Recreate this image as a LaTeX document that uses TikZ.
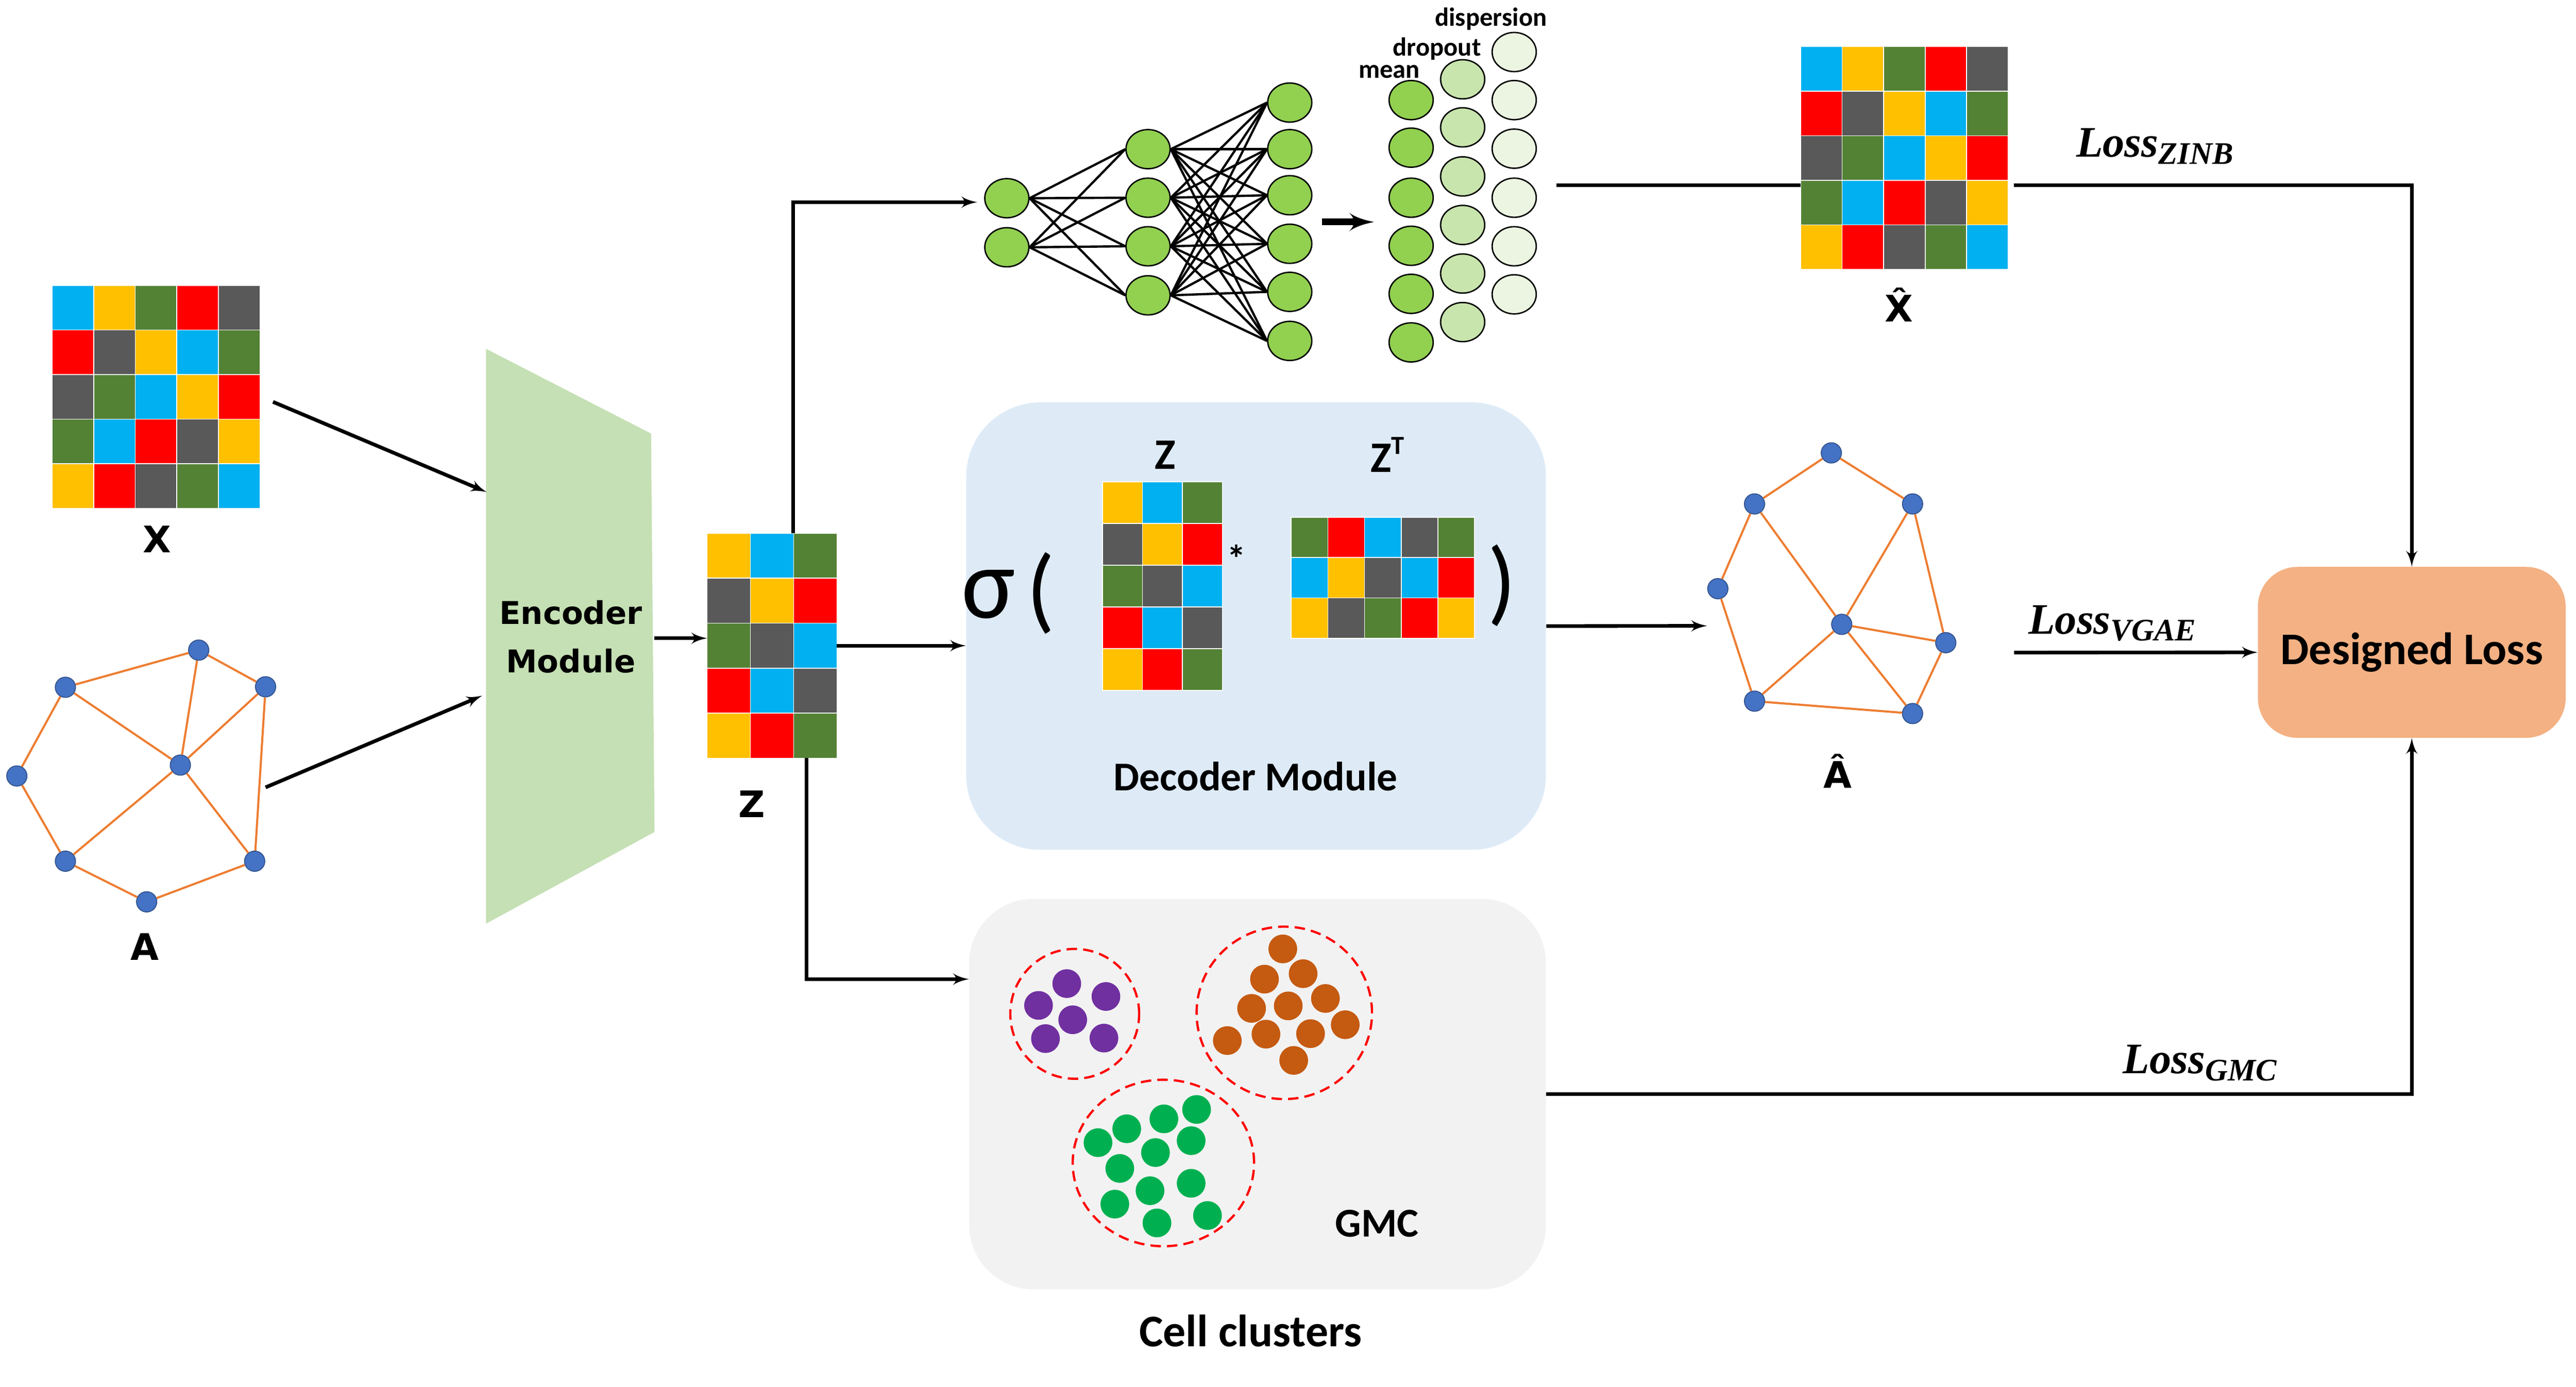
\documentclass[tikz,border=0pt]{standalone}
\usepackage{fontspec}
\setmainfont{Carlito}
\newfontfamily\dejafont{DejaVu Sans}
\newfontfamily\lossfont{Liberation Serif}
\usepackage{tikz}
\usetikzlibrary{shapes, arrows}
\definecolor{mblue}{HTML}{00B0F0}
\definecolor{myellow}{HTML}{FFC000}
\definecolor{mgreen}{HTML}{548235}
\definecolor{mred}{HTML}{FF0000}
\definecolor{mgray}{HTML}{595959}
\definecolor{gorange}{HTML}{ED7D31}
\definecolor{gblue}{HTML}{4472C4}
\definecolor{encgreen}{HTML}{C5E0B4}
\definecolor{decblue}{HTML}{DEEBF7}
\definecolor{gmcgray}{HTML}{F2F2F2}
\definecolor{losspeach}{HTML}{F4B183}
\definecolor{nngreen}{HTML}{92D050}
\definecolor{dropgreen}{HTML}{C9E5AE}
\definecolor{dispgreen}{HTML}{EBF5E1}
\definecolor{cpurple}{HTML}{7030A0}
\definecolor{corange}{HTML}{C55A11}
\definecolor{cgreen}{HTML}{00B050}
\tikzstyle{mat} = [rectangle, inner sep=0pt, outer sep=0pt]
\tikzstyle{lbl} = [font=\dejafont\bfseries\fontsize{21}{24}\selectfont]
\tikzstyle{word} = [font=\bfseries\fontsize{23.5}{28}\selectfont]
\tikzstyle{gnode} = [circle, draw=gblue!70!black, fill=gblue, minimum size=0.41cm, inner sep=0pt, line width=0.5pt]
\tikzstyle{gedge} = [draw=gorange, line width=1.2pt]
\tikzstyle{nnode} = [ellipse, draw, line width=0.8pt, minimum width=0.89cm, minimum height=0.79cm, inner sep=0pt]
\tikzstyle{nedge} = [draw, line width=1.3pt]
\tikzstyle{line} = [draw, line width=2.1pt, -latex']
\tikzstyle{plain} = [draw, line width=2.1pt]
\tikzstyle{bigline} = [draw, line width=3.8pt, -latex']
\tikzstyle{panel} = [rectangle, inner sep=0pt]
\tikzstyle{dot} = [circle, minimum size=0.58cm, inner sep=0pt]
\tikzstyle{ring} = [ellipse, draw=mred, line width=1.3pt, dash pattern=on 6pt off 3.5pt, inner sep=0pt]
% colour cells of a matrix node: node, columns, cell width, cell height, colours
\newcommand{\fillcells}[5]{%
  \foreach \cc [count=\k from 0] in {#5}{%
    \pgfmathtruncatemacro{\mrow}{div(\k,#2)}%
    \pgfmathtruncatemacro{\mcol}{mod(\k,#2)}%
    \fill[\cc, draw=white, line width=0.5pt] ([shift={(\mcol*#3,-\mrow*#4)}]#1.north west) rectangle ++(#3,-#4);
  }}
\newcommand{\lossl}[1]{{\lossfont\bfseries\itshape\fontsize{25}{28}\selectfont Loss\raisebox{-0.35ex}{\fontsize{18}{20}\selectfont #1}}}

\begin{document}
\begin{tikzpicture}
    \useasboundingbox (0,0) rectangle (51.99,-27.99);

    % inputs
    \node[mat, minimum width=4.2cm, minimum height=4.5cm] (xin) at (3.15,-8.01) {};
    \fillcells{xin}{5}{0.84}{0.9}{mblue,myellow,mgreen,mred,mgray,
      mred,mgray,myellow,mblue,mgreen,
      mgray,mgreen,mblue,myellow,mred,
      mgreen,mblue,mred,mgray,myellow,
      myellow,mred,mgray,mgreen,mblue}
    \node[lbl] (xlbl) at (3.17,-10.88) {X};

    \foreach \n/\x/\y in {g1/1.32/-13.87, g2/4.01/-13.12, g3/5.36/-13.86, g4/0.34/-15.66,
      g5/3.64/-15.44, g6/1.32/-17.38, g7/5.14/-17.38, g8/2.96/-18.20}
      \node[gnode] (\n) at (\x,\y) {};
    \foreach \a/\b in {g1/g2, g2/g3, g1/g4, g1/g5, g2/g5, g3/g5, g3/g7, g4/g6, g5/g6, g5/g7, g6/g8, g8/g7}
      \path[gedge] (\a) -- (\b);
    \node[lbl] (albl) at (2.92,-19.11) {A};

    % encoder
    \fill[encgreen] (9.81,-7.04) -- (13.14,-8.75) -- (13.21,-16.79) -- (9.81,-18.64) -- cycle;
    \node[align=center, font=\dejafont\bfseries\fontsize{18}{28}\selectfont] (enc) at (11.52,-12.85) {Encoder\\Module};

    \coordinate (encx) at (9.82,-9.93);
    \coordinate (aout) at (5.36,-15.89);
    \coordinate (enca) at (9.73,-14.04);
    \coordinate (encout) at (13.21,-12.88);
    \path[line] ([xshift=0.26cm, yshift=-0.1cm]xin.east) -- (encx);
    \path[line] (aout) -- (enca);

    % latent Z
    \node[mat, minimum width=2.62cm, minimum height=4.54cm] (zmat) at (15.58,-13.03) {};
    \fillcells{zmat}{3}{0.8733}{0.908}{myellow,mblue,mgreen,
      mgray,myellow,mred,
      mgreen,mgray,mblue,
      mred,mblue,mgray,
      myellow,mred,mgreen}
    \node[lbl] (zlbl) at (15.17,-16.23) {Z};
    \path[line] (encout) -- (encout -| zmat.west);

    % ZINB network
    \foreach \y [count=\i] in {-4.00,-4.99}
      \node[nnode, fill=nngreen] (la\i) at (20.32,\y) {};
    \foreach \y [count=\i] in {-3.01,-3.99,-4.97,-5.96}
      \node[nnode, fill=nngreen] (lb\i) at (23.17,\y) {};
    \foreach \y [count=\i] in {-2.07,-3.01,-3.94,-4.92,-5.89,-6.88}
      \node[nnode, fill=nngreen] (lc\i) at (26.03,\y) {};
    \foreach \i in {1,2}
      \foreach \j in {1,...,4}
        \path[nedge] (la\i.east) -- (lb\j.west);
    \foreach \i in {1,...,4}
      \foreach \j in {1,...,6}
        \path[nedge] (lb\i.east) -- (lc\j.west);

    \foreach \y [count=\i] in {-1.05,-2.02,-3.00,-3.99,-4.97,-5.94}
      \node[nnode, fill=dispgreen] (th\i) at (30.56,\y) {};
    \foreach \y [count=\i] in {-1.60,-2.57,-3.56,-4.54,-5.52,-6.50}
      \node[nnode, fill=dropgreen] (pi\i) at (29.52,\y) {};
    \foreach \y [count=\i] in {-2.02,-2.98,-3.99,-4.96,-5.93,-6.91}
      \node[nnode, fill=nngreen] (mu\i) at (28.48,\y) {};
    \node[font=\bfseries\fontsize{15}{18}\selectfont] (meanlbl) at (28.04,-1.45) {mean};
    \node[font=\bfseries\fontsize{15}{18}\selectfont] (droplbl) at (29.00,-0.98) {dropout};
    \node[font=\bfseries\fontsize{15}{18}\selectfont] (displbl) at (30.09,-0.38) {dispersion};

    \coordinate (nnin) at (19.72,-4.08);
    \coordinate (nnout) at (26.68,-4.48);
    \coordinate (meanin) at (27.73,-4.48);
    \path[line] ([xshift=0.43cm]zmat.north) |- (nnin);
    \path[bigline] (nnout) -- (meanin);

    % reconstructed X
    \node[mat, minimum width=4.19cm, minimum height=4.5cm] (xhat) at (38.435,-3.19) {};
    \fillcells{xhat}{5}{0.838}{0.9}{mblue,myellow,mgreen,mred,mgray,
      mred,mgray,myellow,mblue,mgreen,
      mgray,mgreen,mblue,myellow,mred,
      mgreen,mblue,mred,mgray,myellow,
      myellow,mred,mgray,mgreen,mblue}
    \node[lbl] (xhatlbl) at (38.33,-6.15) {\^{X}};

    % decoder
    \node[panel, fill=decblue, rounded corners=1.5cm, minimum width=11.7cm, minimum height=9.03cm] (dec) at (25.35,-12.635) {};
    \node[font=\fontsize{58}{60}\selectfont] (sig) at (19.95,-12.0) {σ};
    \node[font=\fontsize{54}{56}\selectfont] (lpar) at (21.01,-11.97) {(};
    \node[font=\fontsize{54}{56}\selectfont] (rpar) at (30.31,-11.82) {)};
    \node[mat, minimum width=2.42cm, minimum height=4.21cm] (dz) at (23.46,-11.825) {};
    \fillcells{dz}{3}{0.8067}{0.842}{myellow,mblue,mgreen,
      mgray,myellow,mred,
      mgreen,mgray,mblue,
      mred,mblue,mgray,
      myellow,mred,mgreen}
    \node[mat, minimum width=3.7cm, minimum height=2.44cm] (dzt) at (27.91,-11.66) {};
    \fillcells{dzt}{5}{0.74}{0.8133}{mgreen,mred,mblue,mgray,mgreen,
      mblue,myellow,mgray,mblue,mred,
      myellow,mgray,mgreen,mred,myellow}
    \node[font=\bfseries\fontsize{22}{24}\selectfont] (star) at (24.95,-11.27) {*};
    \node[font=\bfseries\fontsize{25}{28}\selectfont] (dzlbl) at (23.52,-9.18) {Z};
    \node[font=\bfseries\fontsize{25}{28}\selectfont] (dztlbl) at (28.00,-9.18) {Z\raisebox{0.85ex}{\fontsize{15}{16}\selectfont T}};
    \node[word] (declbl) at (25.34,-15.67) {Decoder Module};
    \path[line] (zmat.east) -- (zmat.east -| dec.west);

    % reconstructed graph
    \foreach \n/\x/\y in {h1/36.96/-9.14, h2/35.41/-10.17, h3/38.60/-10.17, h4/34.67/-11.88,
      h5/37.17/-12.60, h6/39.27/-12.97, h7/35.41/-14.15, h8/38.60/-14.40}
      \node[gnode] (\n) at (\x,\y) {};
    \foreach \a/\b in {h1/h2, h1/h3, h2/h4, h2/h5, h3/h5, h3/h6, h4/h7, h5/h6, h5/h7, h5/h8, h7/h8, h6/h8}
      \path[gedge] (\a) -- (\b);
    \node[lbl] (ahatlbl) at (37.09,-15.56) {Â};
    \coordinate (ahatin) at (34.45,-12.63);
    \path[line] (dec.east) -- (ahatin);

    % clustering
    \node[panel, fill=gmcgray, rounded corners=1.3cm, minimum width=11.64cm, minimum height=7.88cm] (gmc) at (25.38,-22.08) {};
    \node[ring, minimum width=2.6cm, minimum height=2.62cm] (ring1) at (21.69,-20.46) {};
    \node[ring, minimum width=3.54cm, minimum height=3.48cm] (ring2) at (25.92,-20.44) {};
    \node[ring, minimum width=3.66cm, minimum height=3.36cm] (ring3) at (23.48,-23.47) {};
    \foreach \p [count=\i] in {(21.53,-19.85), (22.32,-20.11), (20.96,-20.29), (21.65,-20.58), (21.10,-20.96), (22.28,-20.95)}
      \node[dot, fill=cpurple] (pu\i) at \p {};
    \foreach \p [count=\i] in {(25.89,-19.15), (26.30,-19.65), (25.52,-19.76), (26.75,-20.15), (25.26,-20.35), (26.00,-20.30),
      (27.15,-20.68), (25.55,-20.87), (26.45,-20.86), (24.77,-21.00), (26.11,-21.40)}
      \node[dot, fill=corange] (or\i) at \p {};
    \foreach \p [count=\i] in {(24.15,-22.39), (23.49,-22.58), (22.74,-22.78), (22.16,-23.06), (24.04,-23.02), (23.32,-23.26),
      (22.60,-23.58), (23.21,-24.03), (24.04,-23.88), (22.50,-24.30), (24.37,-24.53), (23.35,-24.68)}
      \node[dot, fill=cgreen] (gr\i) at \p {};
    \node[word] (gmclbl) at (27.79,-24.69) {GMC};
    \node[font=\bfseries\fontsize{26}{30}\selectfont] (celllbl) at (25.24,-26.86) {Cell clusters};
    \path[line] ([xshift=0.70cm]zmat.south) |- ([yshift=2.32cm]gmc.west);

    % loss
    \node[panel, fill=losspeach, rounded corners=0.8cm, minimum width=6.21cm, minimum height=3.45cm, font=\bfseries\fontsize{26}{30}\selectfont] (loss) at (48.675,-13.165) {Designed Loss};
    \coordinate (zinbout) at (31.41,-3.74);
    \coordinate (zinbr) at (40.65,-3.74);
    \coordinate (vgaeout) at (40.65,-13.17);
    \path[plain] (zinbout) -- (zinbout -| xhat.west);
    \path[line] (zinbr) -| (loss.north);
    \path[line] (vgaeout) -- (loss.west);
    \path[line] (gmc.east) -| (loss.south);
    \node (zinblbl) at (43.49,-2.95) {\lossl{ZINB}};
    \node (vgaelbl) at (42.63,-12.58) {\lossl{VGAE}};
    \node (gmcloss) at (44.40,-21.45) {\lossl{GMC}};
\end{tikzpicture}
\end{document}
